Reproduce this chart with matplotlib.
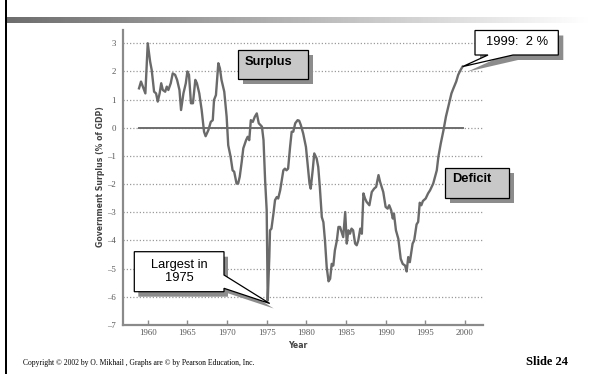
import numpy as np
import matplotlib
matplotlib.use("Agg")
import matplotlib.pyplot as plt
from matplotlib.patches import Polygon, Rectangle

# budget surplus as % of GDP, read by quarter
years = [
    1958.9, 1959.15, 1959.7, 1960.0, 1960.3, 1960.5, 1960.8, 1961.05, 1961.26, 1961.5,
    1961.7, 1961.9, 1962.2, 1962.4, 1962.6, 1962.9, 1963.15, 1963.45, 1963.7, 1964.0,
    1964.2, 1964.5, 1964.8, 1965.0, 1965.2, 1965.45, 1965.7, 1966.0, 1966.2, 1966.5,
    1966.8, 1967.1, 1967.3, 1967.65, 1967.95, 1968.2, 1968.36, 1968.6, 1968.9, 1969.1,
    1969.3, 1969.65, 1969.95, 1970.15, 1970.45, 1970.7, 1970.9, 1971.2, 1971.4, 1971.6,
    1971.85, 1972.05, 1972.4, 1972.6, 1972.8, 1973.0, 1973.25, 1973.5, 1973.75, 1974.0,
    1974.4, 1974.6, 1974.8, 1975.0, 1975.13, 1975.33, 1975.42, 1975.6, 1975.85, 1976.05,
    1976.27, 1976.45, 1976.7, 1976.9, 1977.1, 1977.3, 1977.5, 1977.7, 1977.95, 1978.15,
    1978.35, 1978.6, 1978.9, 1979.1, 1979.3, 1979.6, 1979.95, 1980.2, 1980.4, 1980.55,
    1980.8, 1981.0, 1981.3, 1981.5, 1981.7, 1981.95, 1982.15, 1982.35, 1982.57, 1982.8,
    1983.0, 1983.2, 1983.4, 1983.6, 1983.85, 1984.05, 1984.25, 1984.45, 1984.65, 1984.9,
    1985.1, 1985.3, 1985.5, 1985.7, 1985.9, 1986.15, 1986.35, 1986.55, 1986.8, 1987.0,
    1987.2, 1987.4, 1987.6, 1987.95, 1988.25, 1988.55, 1988.8, 1989.1, 1989.3, 1989.5,
    1989.7, 1990.0, 1990.25, 1990.45, 1990.7, 1990.9, 1991.05, 1991.3, 1991.6, 1991.9,
    1992.15, 1992.45, 1992.65, 1992.85, 1993.05, 1993.4, 1993.6, 1993.9, 1994.1, 1994.3,
    1994.5, 1994.7, 1995.05, 1995.35, 1995.6, 1995.8, 1996.0, 1996.45, 1996.65, 1996.95,
    1997.3, 1997.6, 1997.9, 1998.1, 1998.3, 1998.55, 1998.9, 1999.15, 1999.45, 1999.7,
]
surplus = [
    1.40, 1.64, 1.22, 3.00, 2.35, 2.05, 1.28, 1.22, 0.93, 1.22,
    1.58, 1.34, 1.28, 1.46, 1.34, 1.58, 1.93, 1.88, 1.70, 1.34,
    0.63, 1.22, 1.58, 2.00, 1.88, 0.87, 0.87, 1.70, 1.58, 1.22,
    0.63, -0.14, -0.30, -0.08, 0.21, 0.27, 0.99, 1.16, 2.29, 2.11,
    1.70, 1.28, 0.39, -0.62, -1.03, -1.51, -1.56, -1.98, -1.98, -1.74,
    -1.21, -0.73, -0.44, -0.32, -0.44, 0.27, 0.21, 0.39, 0.51, 0.16,
    0.04, -0.44, -1.86, -2.93, -6.13, -4.59, -3.64, -3.58, -3.05, -2.57,
    -2.46, -2.51, -2.22, -1.86, -1.51, -1.45, -1.51, -1.45, -0.68, -0.14,
    -0.14, 0.16, 0.27, 0.25, 0.10, -0.20, -0.68, -1.39, -1.98, -2.16,
    -1.51, -0.91, -1.09, -1.39, -2.10, -3.17, -3.35, -4.00, -4.95, -5.45,
    -5.36, -4.83, -4.89, -4.35, -4.00, -3.52, -3.52, -3.70, -3.88, -2.99,
    -4.11, -3.64, -3.76, -3.58, -3.64, -4.11, -4.17, -4.00, -3.58, -3.76,
    -2.33, -2.51, -2.63, -2.75, -2.28, -2.16, -2.10, -1.68, -1.92, -2.10,
    -2.28, -2.81, -2.87, -2.75, -2.93, -3.22, -3.05, -3.64, -3.94, -4.65,
    -4.83, -4.89, -5.10, -4.59, -4.77, -4.11, -4.00, -3.43, -3.34, -2.66,
    -2.75, -2.60, -2.51, -2.33, -2.22, -2.10, -1.98, -1.51, -1.03, -0.56,
    -0.08, 0.39, 0.75, 0.99, 1.22, 1.40, 1.64, 1.88, 2.05, 2.17,
]
x_ticks = [1960, 1965, 1970, 1975, 1980, 1985, 1990, 1995, 2000]
y_ticks = [-7, -6, -5, -4, -3, -2, -1, 0, 1, 2, 3]

W, H = 591, 374
fig = plt.figure(figsize=(W / 100, H / 100), dpi=100)
fig.patch.set_facecolor("white")


def fx(x):
    return x / W


def fy(y):
    return 1 - y / H


def pts(coords):
    return [(fx(x), fy(y)) for x, y in coords]


# slide frame: black rule on the left, gray-to-white bar under the title area
fig.add_artist(Rectangle((fx(5), 0), fx(2.3), 1, transform=fig.transFigure,
                         facecolor="black", edgecolor="none", zorder=5))
bar = fig.add_axes([fx(7.3), fy(22.7), 1 - fx(7.3), (22.7 - 17.3) / H])
grad = np.linspace(0, 1, 256)
bar.imshow(np.vstack([grad, grad]), cmap="gray", vmin=-0.75, vmax=1.0,
           aspect="auto", extent=[0, 1, 0, 1])
bar.axis("off")

# chart
ax = fig.add_axes([fx(123), fy(325), (482.7 - 123) / W, (325 - 30) / H])
ax.set_xlim(1956.88, 2002.24)
ax.set_ylim(-7, 3.47)

for v in y_ticks[1:]:
    ax.axhline(v, color="#9a9a9a", lw=0.9, ls=(0, (1, 1.6)), zorder=1)
ax.plot([years[0], 1999.8], [0, 0], color="#6e6e6e", lw=1.4, zorder=2)
ax.plot(years, surplus, color="#6a6a6a", lw=1.7, zorder=3)

for side in ("top", "right"):
    ax.spines[side].set_visible(False)
for side in ("left", "bottom"):
    ax.spines[side].set_color("#8a8a8a")
    ax.spines[side].set_linewidth(1.6)

ax.set_xticks(x_ticks)
ax.set_yticks(y_ticks)
ax.set_yticklabels([str(v).replace("-", "\u2013") for v in y_ticks])
ax.tick_params(axis="x", direction="in", length=3.5, width=1.0, color="#8a8a8a",
               pad=3, labelsize=6.3, labelcolor="#555555")
ax.tick_params(axis="y", length=0, pad=5, labelsize=6.3, labelcolor="#555555")
for lab in ax.get_xticklabels() + ax.get_yticklabels():
    lab.set_family("Liberation Serif")

fig.text(fx(100.7), fy(177), "Government Surplus (% of GDP)", rotation=90,
         ha="center", va="center", fontsize=5.6, fontweight="bold", color="#444444",
         family="DejaVu Sans")
fig.text(fx(298), fy(345), "Year", ha="center", va="center", fontsize=5.6,
         fontweight="bold", color="#444444", family="DejaVu Sans")

# callout boxes
SHADOW = "#8c8c8c"


def to_px(xd, yd):
    dx, dy = ax.transData.transform((xd, yd))
    return dx, H - dy


def shape(coords, face, off=(5, 5)):
    sh = [(x + off[0], y + off[1]) for x, y in coords]
    fig.add_artist(Polygon(pts(sh), closed=True, transform=fig.transFigure,
                           facecolor=SHADOW, edgecolor="none", zorder=6))
    fig.add_artist(Polygon(pts(coords), closed=True, transform=fig.transFigure,
                           facecolor=face, edgecolor="black", lw=0.9, zorder=7))


shape([(238.3, 50), (307.7, 50), (307.7, 79.3), (238.3, 79.3)], "#c8c8c8")
fig.text(fx(245), fy(62), "Surplus", ha="left", va="center", fontsize=9.3,
         fontweight="bold", family="Liberation Sans", zorder=8)

shape([(445, 168.3), (509.3, 168.3), (509.3, 197.7), (445, 197.7)], "#c8c8c8")
fig.text(fx(451.7), fy(179.5), "Deficit", ha="left", va="center", fontsize=9.3,
         fontweight="bold", family="Liberation Sans", zorder=8)

tip = to_px(years[-1], surplus[-1])
shape([(475, 30.5), (558.3, 30.5), (558.3, 55), (513, 55), tip, (488, 55), (475, 55)],
      "white")
fig.text(fx(516.7), fy(42), "1999:  2 %", ha="center", va="center", fontsize=9.3,
         family="Liberation Sans", zorder=8)

i_min = int(np.argmin(surplus))
tip = to_px(years[i_min], surplus[i_min])
tip = (tip[0] + 2, tip[1] + 3)
shape([(134.3, 251.7), (224, 251.7), (224, 275), tip, (224, 288.3), (224, 291.7),
       (134.3, 291.7)], "white", off=(4, 5))
fig.text(fx(179.2), fy(271.5), "Largest in\n" + str(int(years[i_min])), ha="center",
         va="center", fontsize=9.3, family="Liberation Sans", linespacing=1.15, zorder=8)

# footer
fig.text(fx(22.7), fy(363), "Copyright \u00a9 2002 by O. Mikhail , Graphs are \u00a9 by "
         "Pearson Education, Inc.", ha="left", va="center", fontsize=5.5,
         family="Liberation Serif")
fig.text(fx(568), fy(362), "Slide 24", ha="right", va="center", fontsize=9,
         fontweight="bold", family="Liberation Serif")

fig.savefig("out.png", dpi=100)
